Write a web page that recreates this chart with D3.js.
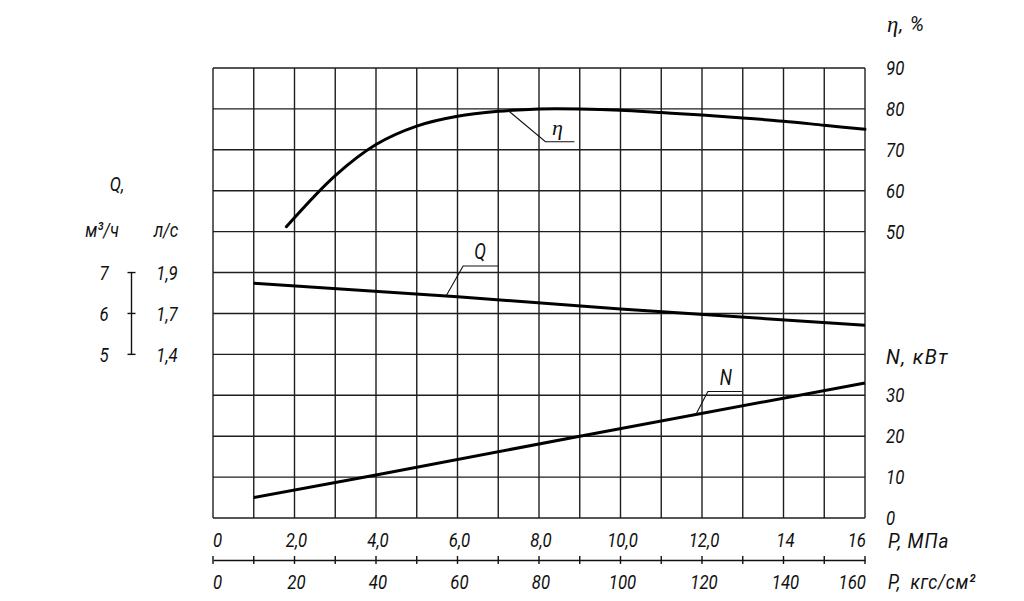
<!DOCTYPE html>
<html><head><meta charset="utf-8">
<script src="https://cdn.jsdelivr.net/npm/d3@7"></script>
<style>
html,body{margin:0;padding:0;background:#fff;}
svg text{font-family:Roboto,"Liberation Sans",sans-serif;font-style:italic;font-weight:400;fill:#111;}
.greek{font-family:"Liberation Serif","DejaVu Serif",serif !important;}
</style>
</head><body>
<svg id="c" width="1024" height="601"></svg>
<script>
// ---- data ----
const etaP = [1.8, 3, 4, 5, 6, 7, 8, 9, 10, 11, 12, 13, 14, 15, 16];
const etaV = [51.2, 63.7, 71.3, 75.8, 78.2, 79.4, 80.0, 80.0, 79.7, 79.1, 78.5, 77.8, 77.0, 76.0, 75.0];
const qP = [1, 6, 10, 16];
const qV = [6.74, 6.41, 6.11, 5.71];        // м³/ч
const nP = [1, 4, 9, 16];
const nV = [5.0, 10.5, 20.0, 33.0];         // кВт
const mpaTicks = [0, 2, 4, 6, 8, 10, 12, 14, 16];
const mpaLabels = ["0", "2,0", "4,0", "6,0", "8,0", "10,0", "12,0", "14", "16"];
const kgfTicks = [0, 20, 40, 60, 80, 100, 120, 140, 160];
const etaTicks = [90, 80, 70, 60, 50];
const nTicks = [30, 20, 10, 0];
const qTicksM3 = ["7", "6", "5"];
const qTicksLs = ["1,9", "1,7", "1,4"];
const qTickVals = [7, 6, 5];

// ---- layout ----
const svg = d3.select("#c");
const L = 213, R = 865, T = 68, B = 518;
const nRows = 11;
const rowH = (B - T) / nRows;
const x = d3.scaleLinear().domain([0, 16]).range([L, R]);
const xk = d3.scaleLinear().domain([0, 160]).range([L, R]);
const yEta = d3.scaleLinear().domain([90, 50]).range([T, T + 4 * rowH]);
const yQ = d3.scaleLinear().domain([7, 5]).range([T + 5 * rowH, T + 7 * rowH]);
const yN = d3.scaleLinear().domain([30, 0]).range([T + 8 * rowH, B]);
const gridC = "#1e1e1e";
const FS = 21, SX = 0.8;

function txt(px, py, s, anchor, opts) {
  opts = opts || {};
  const t = svg.append("text")
    .attr("transform", `translate(${px},${py}) scale(${opts.sx || SX},1)`)
    .attr("text-anchor", anchor || "start")
    .attr("dominant-baseline", opts.base || "central")
    .attr("font-size", opts.fs || FS);
  if (opts.cls) t.attr("class", opts.cls);
  if (opts.ls) t.attr("letter-spacing", opts.ls);
  t.text(s);
  return t;
}

// grid
const g = svg.append("g");
d3.range(0, 17).forEach(i => {
  g.append("line").attr("x1", x(i)).attr("x2", x(i)).attr("y1", T).attr("y2", B)
    .attr("stroke", gridC).attr("stroke-width", 1.4);
});
d3.range(0, nRows + 1).forEach(i => {
  const yy = T + i * rowH;
  g.append("line").attr("x1", L).attr("x2", R).attr("y1", yy).attr("y2", yy)
    .attr("stroke", gridC).attr("stroke-width", 1.4);
});

// curves
const line = (ys) => d3.line().x(d => x(d[0])).y(d => ys(d[1]));
svg.append("path").datum(d3.zip(etaP, etaV))
  .attr("d", line(yEta).curve(d3.curveCatmullRom.alpha(0.5)))
  .attr("fill", "none").attr("stroke", "#000").attr("stroke-width", 3).attr("stroke-linecap", "round");
svg.append("path").datum(d3.zip(qP, qV))
  .attr("d", line(yQ))
  .attr("fill", "none").attr("stroke", "#000").attr("stroke-width", 3);
svg.append("path").datum(d3.zip(nP, nV))
  .attr("d", line(yN))
  .attr("fill", "none").attr("stroke", "#000").attr("stroke-width", 3);

// leaders
function interp(P, V, p) {
  const i = Math.max(1, Math.min(P.length - 1, d3.bisectLeft(P, p)));
  const t = (p - P[i - 1]) / (P[i] - P[i - 1]);
  return V[i - 1] + t * (V[i] - V[i - 1]);
}
function leader(P, V, ys, at, dx, dy, len, lx, ly, s, greek) {
  const ax = x(at), ay = ys(interp(P, V, at));
  svg.append("path").attr("d", `M${ax},${ay}L${ax + dx},${ay + dy}L${ax + dx + len},${ay + dy}`)
    .attr("fill", "none").attr("stroke", "#111").attr("stroke-width", 1.1);
  if (greek) txt(ax + lx, ay + ly, s, "middle", { cls: "greek", sx: 1, fs: 22 });
  else txt(ax + lx, ay + ly, s, "middle", { fs: 22 });
}
leader(etaP, etaV, yEta, 7.25, 37, 31, 29, 49, 17, "η", true);
leader(qP, qV, yQ, 5.72, 17, -30, 35, 34, -44, "Q");
leader(nP, nV, yN, 11.85, 12, -23, 34, 30, -37, "N");

// right axis labels
etaTicks.forEach(v => txt(886, yEta(v), v));
nTicks.forEach(v => txt(886, yN(v), v));
const et = svg.append("text").attr("transform", "translate(887,24) scale(0.95,1)").attr("dominant-baseline", "central")
  .attr("font-size", FS).attr("letter-spacing", 1);
et.append("tspan").attr("class", "greek").attr("font-size", 24).text("η");
et.append("tspan").text(", %");
txt(886, T + 7 * rowH + 2, "N, кВт", "start", { sx: 0.95, ls: 1.5 });

// left Q scale
txt(117, 184, "Q,", "middle");
txt(102, 230, "м³/ч", "middle");
txt(166, 230, "л/с", "middle");
qTickVals.forEach((v, i) => {
  txt(104, yQ(v), qTicksM3[i], "middle");
  txt(167, yQ(v), qTicksLs[i], "middle");
  svg.append("line").attr("x1", 127.5).attr("x2", 135.5).attr("y1", yQ(v)).attr("y2", yQ(v))
    .attr("stroke", "#111").attr("stroke-width", 1.4);
});
svg.append("line").attr("x1", 131.5).attr("x2", 131.5).attr("y1", yQ(7)).attr("y2", yQ(5))
  .attr("stroke", "#111").attr("stroke-width", 1.4);

// bottom axis
const axY = 560;
const ax = svg.append("g").attr("transform", `translate(0,${axY})`)
  .call(d3.axisBottom(x).tickValues(d3.range(0, 17)).tickSize(0).tickFormat(""));
ax.select(".domain").attr("stroke", "#111").attr("stroke-width", 1.4);
d3.range(0, 17).forEach(i => {
  svg.append("line").attr("x1", x(i)).attr("x2", x(i)).attr("y1", axY - 4).attr("y2", axY + 4)
    .attr("stroke", "#111").attr("stroke-width", 1.4);
});
const anch = (i, n) => i === 0 ? "start" : (i === n - 1 ? "end" : "middle");
const off = (i, n) => i === 0 ? 0 : (i === n - 1 ? 1 : 2);
mpaTicks.forEach((v, i) => txt(x(v) + off(i, mpaTicks.length), 540, mpaLabels[i], anch(i, mpaTicks.length)));
kgfTicks.forEach((v, i) => txt(xk(v) + off(i, kgfTicks.length), 582, String(v), anch(i, kgfTicks.length)));
txt(888, 541, "P, МПа", "start", { sx: 0.9, ls: 1 });
txt(888, 582, "P,\u2002кгс/см²", "start", { sx: 0.85, ls: 0.8 });
</script>
</body></html>
